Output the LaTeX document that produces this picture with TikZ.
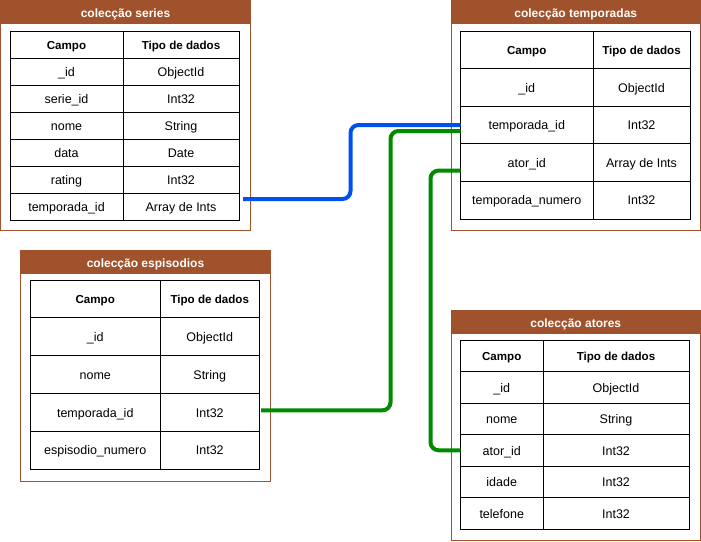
\documentclass[tikz,border=0pt]{standalone}
\usepackage{fontspec}
\setmainfont{Liberation Sans}
\usetikzlibrary{positioning}
\definecolor{sienna}{HTML}{A0522D}
\definecolor{linkblue}{HTML}{0050EF}
\definecolor{linkgreen}{HTML}{008A00}
\tikzset{
  colbox/.style={draw=sienna, line width=1pt},
  colhead/.style={fill=sienna, text=white, anchor=north west, inner sep=0pt, outer sep=0pt,
    minimum height=23.5pt, text height=11.5pt, text depth=0.5pt,
    font=\fontsize{12}{14}\selectfont\bfseries},
  cell/.style={draw, line width=1pt, anchor=north west, inner sep=0pt, outer sep=0pt,
    minimum height=#1, text height=11pt, text depth=1.5pt, font=\fontsize{12.5}{14}\selectfont},
  headcell/.style={cell=#1, font=\fontsize{11.6}{14}\selectfont\bfseries},
  link/.style={line width=4pt, rounded corners=8pt}
}
\begin{document}
\begin{tikzpicture}[x=1pt,y=-1pt]
  \useasboundingbox (0,0) rectangle (701,541);

  % colecção series
  \draw[colbox] (0.5,0.5) rectangle (250,230);
  \node[colhead,minimum width=250pt] (ser-head) at (0.5,0) {colecção series};
  \node[headcell=27pt,minimum width=113pt] (ser-c0) at (10,31) {Campo};
  \node[headcell=27pt,minimum width=116pt] (ser-t0) at (123,31) {Tipo de dados};
  \foreach \c/\t [count=\i] in {\_id/ObjectId, serie\_id/Int32, nome/String, data/Date,
      rating/Int32, temporada\_id/Array de Ints} {
    \node[cell=27pt,minimum width=113pt] (ser-c\i) at (10,{31+27*\i}) {\c};
    \node[cell=27pt,minimum width=116pt] (ser-t\i) at (123,{31+27*\i}) {\t};
  }

  % colecção temporadas
  \draw[colbox] (451,0.5) rectangle (700,230);
  \node[colhead,minimum width=249.5pt] (tem-head) at (451,0) {colecção temporadas};
  \node[headcell=37.6pt,minimum width=132.5pt] (tem-c0) at (460.5,31) {Campo};
  \node[headcell=37.6pt,minimum width=97pt] (tem-t0) at (593,31) {Tipo de dados};
  \foreach \c/\t [count=\i] in {\_id/ObjectId, temporada\_id/Int32, ator\_id/Array de Ints,
      temporada\_numero/Int32} {
    \node[cell=37.6pt,minimum width=132.5pt] (tem-c\i) at (460.5,{31+37.6*\i}) {\c};
    \node[cell=37.6pt,minimum width=97pt] (tem-t\i) at (593,{31+37.6*\i}) {\t};
  }

  % colecção espisodios
  \draw[colbox] (20.5,250) rectangle (270,481);
  \node[colhead,minimum width=250pt] (esp-head) at (20.5,250) {colecção espisodios};
  \node[headcell=37.8pt,minimum width=130.5pt] (esp-c0) at (30,280) {Campo};
  \node[headcell=37.8pt,minimum width=98.5pt] (esp-t0) at (160.5,280) {Tipo de dados};
  \foreach \c/\t [count=\i] in {\_id/ObjectId, nome/String, temporada\_id/Int32,
      espisodio\_numero/Int32} {
    \node[cell=37.8pt,minimum width=130.5pt] (esp-c\i) at (30,{280+37.8*\i}) {\c};
    \node[cell=37.8pt,minimum width=98.5pt] (esp-t\i) at (160.5,{280+37.8*\i}) {\t};
  }

  % colecção atores
  \draw[colbox] (451,310) rectangle (700,540.5);
  \node[colhead,minimum width=249.5pt] (ato-head) at (451,310) {colecção atores};
  \node[headcell=31.5pt,minimum width=82.5pt] (ato-c0) at (460.5,340) {Campo};
  \node[headcell=31.5pt,minimum width=146pt] (ato-t0) at (543,340) {Tipo de dados};
  \foreach \c/\t [count=\i] in {\_id/ObjectId, nome/String, ator\_id/Int32, idade/Int32,
      telefone/Int32} {
    \node[cell=31.5pt,minimum width=82.5pt] (ato-c\i) at (460.5,{340+31.5*\i}) {\c};
    \node[cell=31.5pt,minimum width=146pt] (ato-t\i) at (543,{340+31.5*\i}) {\t};
  }

  % ligações
  \draw[link,linkblue] ([xshift=4pt,yshift=7.5pt]ser-t6.east)
    -| ([xshift=-110pt]tem-c2.west) -- (tem-c2.west);
  \draw[link,linkgreen] ([xshift=2pt,yshift=2pt]esp-t3.east)
    -| ([xshift=-70pt,yshift=-6pt]tem-c2.west) -- ([yshift=-6pt]tem-c2.west);
  \draw[link,linkgreen] ([yshift=-8pt]tem-c3.west)
    -| ([xshift=-30pt]ato-c3.west) -- (ato-c3.west);
\end{tikzpicture}
\end{document}
